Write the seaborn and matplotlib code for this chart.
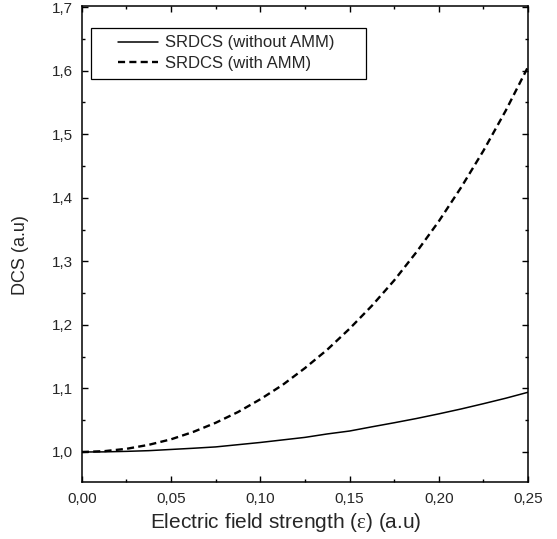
import matplotlib
matplotlib.use("Agg")
import matplotlib.pyplot as plt
import seaborn as sns
import pandas as pd
from matplotlib.ticker import MultipleLocator, FuncFormatter
from matplotlib.legend_handler import HandlerLine2D
from matplotlib.lines import Line2D

# Field strength (a.u)
field = [0.0, 0.0125, 0.025, 0.0375, 0.05, 0.0625, 0.075, 0.0875, 0.1, 0.1125,
         0.125, 0.1375, 0.15, 0.1625, 0.175, 0.1875, 0.2, 0.2125, 0.225, 0.2375, 0.25]
# SRDCS without AMM
dcs_without = [1.000, 1.0002, 1.001, 1.0021, 1.004, 1.0059, 1.008, 1.0115, 1.015, 1.019,
               1.023, 1.0284, 1.033, 1.0396, 1.046, 1.0527, 1.060, 1.0677, 1.076, 1.0846, 1.094]
# SRDCS with AMM
dcs_with = [1.000, 1.0013, 1.005, 1.0113, 1.020, 1.0317, 1.046, 1.0629, 1.083, 1.1056,
            1.132, 1.161, 1.194, 1.2301, 1.270, 1.3146, 1.363, 1.4163, 1.474, 1.5371, 1.606]

labels = ["SRDCS (without AMM)", "SRDCS (with AMM)"]

sns.set_theme(style="ticks")
plt.rcParams["font.family"] = ["Liberation Sans", "DejaVu Sans"]
plt.rcParams["mathtext.fontset"] = "custom"
plt.rcParams["mathtext.rm"] = "Liberation Serif"

df = pd.concat([
    pd.DataFrame({"x": field, "y": dcs_without, "series": labels[0]}),
    pd.DataFrame({"x": field, "y": dcs_with, "series": labels[1]}),
])

fig = plt.figure(figsize=(5.57, 5.39), dpi=100)
ax = fig.add_axes([0.147, 0.106, 0.801, 0.882])

sns.lineplot(data=df[df.series == labels[0]], x="x", y="y", ax=ax,
             color="black", lw=1.1, label=labels[0])
sns.lineplot(data=df[df.series == labels[1]], x="x", y="y", ax=ax,
             color="black", lw=1.7, linestyle=(0, (3.0, 1.8)), label=labels[1])

ax.set_xlim(0, 0.25)
ax.set_ylim(0.953, 1.701)
ax.xaxis.set_major_locator(MultipleLocator(0.05))
ax.xaxis.set_minor_locator(MultipleLocator(0.025))
ax.yaxis.set_major_locator(MultipleLocator(0.1))
ax.yaxis.set_minor_locator(MultipleLocator(0.05))
ax.xaxis.set_major_formatter(FuncFormatter(lambda v, p: f"{v:.2f}".replace(".", ",")))
ax.yaxis.set_major_formatter(FuncFormatter(lambda v, p: f"{v:.1f}".replace(".", ",")))

ax.tick_params(which="both", direction="in", top=True, right=True, color="black",
               labelsize=11, width=1.0)
ax.tick_params(axis="x", pad=7)
ax.tick_params(axis="y", pad=6.5)
ax.tick_params(which="major", length=4)
ax.tick_params(which="minor", length=2.3)
for s in ax.spines.values():
    s.set_linewidth(1.1)
    s.set_color("black")

ax.set_xlabel(r"Electric field strength ($\mathrm{\epsilon}$) (a.u)", fontsize=15)
ax.set_ylabel("DCS (a.u)", fontsize=13)
ax.xaxis.set_label_coords(0.457, -0.062)
ax.yaxis.set_label_coords(-0.119, 0.477)

hm = {Line2D: HandlerLine2D(xpad=1.16)}
leg = ax.legend(loc="upper left", bbox_to_anchor=(0.0202, 0.80, 0.617, 0.155), mode="expand",
                fontsize=12, frameon=True, fancybox=False, handlelength=3.56,
                handletextpad=0.45, borderpad=0.45, labelspacing=0.35,
                borderaxespad=0, handler_map=hm)
leg.get_frame().set_edgecolor("black")
leg.get_frame().set_linewidth(0.9)
leg.get_frame().set_alpha(1)

fig.savefig("out.png", dpi=100)
